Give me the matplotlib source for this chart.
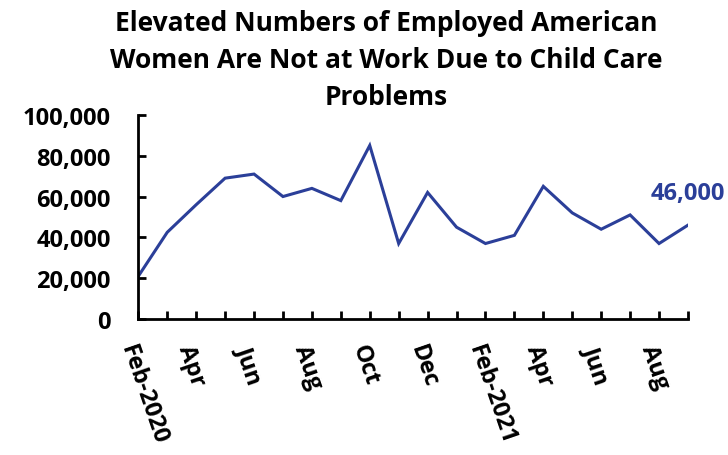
import matplotlib
matplotlib.use('Agg')
import matplotlib.pyplot as plt
from matplotlib.ticker import FuncFormatter

months = ['Feb-2020', 'Mar', 'Apr', 'May', 'Jun', 'Jul', 'Aug', 'Sep', 'Oct', 'Nov',
          'Dec', 'Jan', 'Feb-2021', 'Mar', 'Apr', 'May', 'Jun', 'Jul', 'Aug', 'Sep']
women_not_at_work = [21000, 42500, 56000, 69000, 71000, 60000, 64000, 58000, 85000, 37000,
                     62000, 45000, 37000, 41000, 65000, 52000, 44000, 51000, 37000, 46000]
y_ticks = [0, 20000, 40000, 60000, 80000, 100000]

plt.rcParams['font.family'] = ['Open Sans', 'DejaVu Sans']
blue = '#2B3F99'

fig = plt.figure(figsize=(7.28, 4.56), dpi=100)
ax = fig.add_axes([0.19, 0.298, 0.755, 0.448])

x = list(range(len(months)))
ax.plot(x, women_not_at_work, color=blue, lw=2.2, solid_joinstyle='miter')
ax.annotate(f'{women_not_at_work[-1]:,}', (x[-1], women_not_at_work[-1]),
            xytext=(-27, 23), textcoords='offset points', color=blue,
            fontsize=17, fontweight='bold', ha='left', va='center',
            annotation_clip=False)

ax.set_xlim(0, len(months) - 1)
ax.set_ylim(0, 100000)
ax.set_yticks(y_ticks)
ax.yaxis.set_major_formatter(FuncFormatter(lambda v, p: f'{int(v):,}'))
ax.set_xticks(x)
ax.set_xticklabels([m if i % 2 == 0 else '' for i, m in enumerate(months)],
                   rotation=-71, ha='left', va='top', rotation_mode='anchor')

for s in ['top', 'right']:
    ax.spines[s].set_visible(False)
for s in ['left', 'bottom']:
    ax.spines[s].set_linewidth(2)
ax.tick_params(axis='x', direction='in', length=6, width=2, pad=16,
               labelsize=17)
ax.tick_params(axis='y', direction='in', length=6, width=2, pad=20,
               labelsize=17)
for lab in ax.get_xticklabels() + ax.get_yticklabels():
    lab.set_fontweight('bold')

fig.text(0.53, 0.978, 'Elevated Numbers of Employed American\n'
         'Women Are Not at Work Due to Child Care\nProblems',
         ha='center', va='top', fontsize=19, fontweight='bold',
         linespacing=1.48)

fig.savefig('out.png', dpi=100)
